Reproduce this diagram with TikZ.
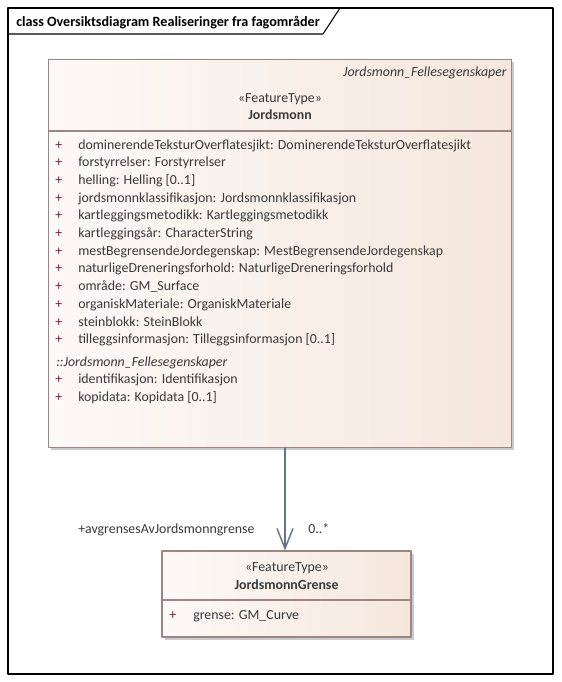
\documentclass[tikz,border=0pt]{standalone}
\usepackage{fontspec}
\setmainfont{Carlito}
\usepackage{tikz}
\usetikzlibrary{positioning}
\usetikzlibrary{shadows}
\usetikzlibrary{arrows.meta}
\definecolor{umlborder}{HTML}{9C8583}
\definecolor{umlleft}{HTML}{FDF9F6}
\definecolor{umlright}{HTML}{F5E7DD}
\definecolor{umltext}{HTML}{3A3A3A}
\definecolor{umlplus}{HTML}{7A1C3A}
\definecolor{umlarrow}{HTML}{67728C}
\definecolor{umlshadow}{HTML}{CBCBCB}

\begin{document}
\begin{tikzpicture}[x=0.75pt,y=-0.75pt,line cap=round,line join=round,
  classbox/.style={draw=umlborder,line width=0.8pt,left color=umlleft,right color=umlright,inner sep=0pt,
    drop shadow={shadow xshift=2.2pt,shadow yshift=-2.2pt,fill=umlshadow,opacity=1}},
  attr/.style={anchor=base west,inner sep=0pt,text=umltext,font=\fontsize{10.4}{12}\selectfont},
  plus/.style={anchor=base west,inner sep=0pt,text=umlplus,font=\fontsize{10.4}{12}\selectfont},
  stereo/.style={anchor=base,inner sep=0pt,text=umltext,font=\fontsize{10.4}{12}\selectfont},
  classname/.style={anchor=base,inner sep=0pt,text=umltext,font=\fontsize{10.4}{12}\selectfont\bfseries}]
\useasboundingbox[fill=white] (0,0) rectangle (561,682);
% frame and title tab
\draw[line width=0.8pt] (8,8) rectangle (553,674);
\draw[line width=0.8pt] (8,34) -- (323,34) -- (340,8);
\node[anchor=base west,inner sep=0pt,font=\fontsize{10.6}{12}\selectfont\bfseries] (title) at (16,26) {class Oversiktsdiagram Realiseringer fra fagområder};
% class Jordsmonn
\node[classbox,minimum width=347.25pt,minimum height=291pt] (jordsmonn) at (280,253.5) {};
\draw[draw=umlborder,line width=0.8pt] (48.5,131) -- (511.5,131);
\node[anchor=base east,inner sep=0pt,text=umltext,font=\fontsize{10.4}{12}\selectfont\itshape] (parent) at (507,76) {Jordsmonn\_Fellesegenskaper};
\node[stereo] (stereoA) at (280,102) {«FeatureType»};
\node[classname] (nameA) at (280,119) {Jordsmonn};
\node[plus] (p1) at (55,149) {+};
\node[attr] (a1) at (78,149) {dominerendeTeksturOverflatesjikt: DominerendeTeksturOverflatesjikt};
\node[plus] (p2) at (55,166.7) {+};
\node[attr] (a2) at (78,166.7) {forstyrrelser: Forstyrrelser};
\node[plus] (p3) at (55,184.4) {+};
\node[attr] (a3) at (78,184.4) {helling: Helling [0..1]};
\node[plus] (p4) at (55,202.1) {+};
\node[attr] (a4) at (78,202.1) {jordsmonnklassifikasjon: Jordsmonnklassifikasjon};
\node[plus] (p5) at (55,219.8) {+};
\node[attr] (a5) at (78,219.8) {kartleggingsmetodikk: Kartleggingsmetodikk};
\node[plus] (p6) at (55,237.5) {+};
\node[attr] (a6) at (78,237.5) {kartleggingsår: CharacterString};
\node[plus] (p7) at (55,255.2) {+};
\node[attr] (a7) at (78,255.2) {mestBegrensendeJordegenskap: MestBegrensendeJordegenskap};
\node[plus] (p8) at (55,272.9) {+};
\node[attr] (a8) at (78,272.9) {naturligeDreneringsforhold: NaturligeDreneringsforhold};
\node[plus] (p9) at (55,290.6) {+};
\node[attr] (a9) at (78,290.6) {område: GM\_Surface};
\node[plus] (p10) at (55,308.3) {+};
\node[attr] (a10) at (78,308.3) {organiskMateriale: OrganiskMateriale};
\node[plus] (p11) at (55,326) {+};
\node[attr] (a11) at (78,326) {steinblokk: SteinBlokk};
\node[plus] (p12) at (55,343.7) {+};
\node[attr] (a12) at (78,343.7) {tilleggsinformasjon: Tilleggsinformasjon [0..1]};
\node[attr,font=\fontsize{10.4}{12}\selectfont\itshape] (inherited) at (56,366) {::Jordsmonn\_Fellesegenskaper};
\node[plus] (p13) at (55,383.5) {+};
\node[attr] (a13) at (78,383.5) {identifikasjon: Identifikasjon};
\node[plus] (p14) at (55,401.5) {+};
\node[attr] (a14) at (78,401.5) {kopidata: Kopidata [0..1]};
% class JordsmonnGrense
\node[classbox,minimum width=186.75pt,minimum height=64.5pt] (grense) at (286.5,594) {};
\draw[draw=umlborder,line width=0.8pt] (162,600) -- (411,600);
\node[stereo] (stereoB) at (287,571) {«FeatureType»};
\node[classname] (nameB) at (286.5,589) {JordsmonnGrense};
\node[plus] (p15) at (169,619) {+};
\node[attr] (b1) at (193,619) {grense: GM\_Curve};
% association
\coordinate (assoc) at (285,0);
\draw[umlarrow,line width=1.1pt,-{Straight Barb[length=15pt,width=12pt]}] (jordsmonn.south -| assoc) -- (grense.north -| assoc);
\node[attr] (role) at (78,533) {+avgrensesAvJordsmonngrense};
\node[attr] (mult) at (308,533) {0..*};
\end{tikzpicture}
\end{document}
